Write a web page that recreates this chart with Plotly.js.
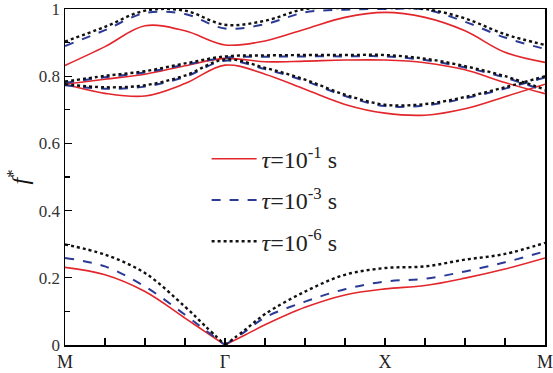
<!DOCTYPE html>
<html>
<head>
<meta charset="utf-8">
<script src="https://cdn.plot.ly/plotly-3.0.1.min.js"></script>
<style>html,body{margin:0;padding:0;background:#fff;}#chart{width:553px;height:373px;}</style>
</head>
<body>
<div id="chart"></div>
<script>
// k-path positions: M=0, Γ=1, X=2, M=3
const tickPos = [0, 1, 2, 3];
const tickLabels = ["M", "Γ", "X", "M"];
const seriesNames = ["<i>τ</i>=10<sup>-1</sup> s", "<i>τ</i>=10<sup>-3</sup> s", "<i>τ</i>=10<sup>-6</sup> s"];

// Band 1, M -> Γ
const b1L_x = [0, 0.25, 0.5, 0.75, 0.875, 1];
const b1L_red   = [0.231, 0.209, 0.159, 0.080, 0.040, 0.0];
const b1L_blue  = [0.259, 0.234, 0.174, 0.090, 0.045, 0.0];
const b1L_black = [0.299, 0.269, 0.214, 0.114, 0.057, 0.0];

// Band 1, Γ -> X -> M
const b1R_x = [1, 1.125, 1.25, 1.5, 1.75, 2, 2.25, 2.5, 2.75, 3];
const b1R_red   = [0, 0.030, 0.060, 0.112, 0.149, 0.167, 0.177, 0.199, 0.226, 0.259];
const b1R_blue  = [0, 0.040, 0.082, 0.129, 0.166, 0.189, 0.197, 0.219, 0.246, 0.279];
const b1R_black = [0, 0.045, 0.092, 0.159, 0.209, 0.229, 0.234, 0.254, 0.271, 0.304];

// Band 2 (lower middle)
const b2_x = [0, 0.25, 0.5, 0.75, 1, 1.25, 1.5, 1.75, 2, 2.25, 2.5, 2.75, 3];
const b2_red   = [0.776, 0.749, 0.741, 0.778, 0.833, 0.806, 0.761, 0.716, 0.690, 0.684, 0.703, 0.739, 0.776];
const b2_blue  = [0.773, 0.763, 0.769, 0.798, 0.846, 0.821, 0.786, 0.741, 0.711, 0.713, 0.734, 0.763, 0.796];
const b2_black = [0.776, 0.767, 0.773, 0.802, 0.850, 0.825, 0.790, 0.745, 0.715, 0.717, 0.738, 0.767, 0.800];

// Band 3 (upper middle)
const b3_x = [0, 0.25, 0.5, 0.75, 1, 1.25, 1.5, 1.75, 2, 2.25, 2.5, 2.75, 3];
const b3_red   = [0.776, 0.791, 0.806, 0.831, 0.853, 0.843, 0.845, 0.848, 0.848, 0.840, 0.819, 0.781, 0.748];
const b3_blue  = [0.780, 0.797, 0.811, 0.834, 0.855, 0.858, 0.859, 0.859, 0.859, 0.848, 0.826, 0.796, 0.756];
const b3_black = [0.784, 0.801, 0.815, 0.838, 0.859, 0.862, 0.863, 0.863, 0.863, 0.852, 0.830, 0.800, 0.760];

// Band 4 (top)
const b4_x = [0, 0.25, 0.5, 0.75, 1, 1.25, 1.5, 1.75, 2, 2.25, 2.5, 2.75, 3];
const b4_red   = [0.832, 0.888, 0.950, 0.935, 0.893, 0.905, 0.940, 0.975, 0.990, 0.975, 0.935, 0.871, 0.841];
const b4_blue  = [0.890, 0.937, 0.988, 0.985, 0.942, 0.955, 0.990, 0.998, 1.000, 0.998, 0.962, 0.915, 0.881];
const b4_black = [0.903, 0.947, 0.995, 0.995, 0.953, 0.965, 1.000, 1.003, 1.003, 1.000, 0.972, 0.925, 0.893];

const styles = [
  {color: "#e3262b", width: 1.6, dash: "solid"},
  {color: "#2b3b95", width: 2.0, dash: "dash"},
  {color: "#111111", width: 2.4, dash: "dot"}
];

const bandSets = [
  [[b1L_x, b1L_red], [b1R_x, b1R_red], [b2_x, b2_red], [b3_x, b3_red], [b4_x, b4_red]],
  [[b1L_x, b1L_blue], [b1R_x, b1R_blue], [b2_x, b2_blue], [b3_x, b3_blue], [b4_x, b4_blue]],
  [[b1L_x, b1L_black], [b1R_x, b1R_black], [b2_x, b2_black], [b3_x, b3_black], [b4_x, b4_black]]
];

const traces = [];
bandSets.forEach((bands, si) => {
  bands.forEach((b, bi) => {
    traces.push({
      x: b[0], y: b[1], type: "scatter", mode: "lines",
      line: {color: styles[si].color, width: styles[si].width, dash: styles[si].dash, shape: "spline", smoothing: 1},
      name: seriesNames[si], legendgroup: "g" + si, showlegend: bi === 0, hoverinfo: "skip"
    });
  });
});

const layout = {
  width: 553, height: 373,
  margin: {l: 65, r: 8, t: 9, b: 28},
  paper_bgcolor: "#fff", plot_bgcolor: "#fff",
  font: {family: "Liberation Serif, Times New Roman, serif", color: "#222"},
  showlegend: true,
  legend: {
    x: 0.295, y: 0.62, xanchor: "left", yanchor: "top",
    bgcolor: "rgba(0,0,0,0)", font: {size: 24, family: "Liberation Serif, serif", color: "#222"},
    traceorder: "grouped", tracegroupgap: 7, itemwidth: 45
  },
  xaxis: {
    range: [0, 3], tickmode: "array", tickvals: tickPos, ticktext: tickLabels,
    ticklabeloverflow: "allow",
    ticks: "inside", ticklen: 7, tickwidth: 1.2, tickcolor: "#000",
    minor: {tickmode: "linear", tick0: 0, dtick: 0.25, ticks: "inside", ticklen: 7, tickwidth: 1.2, tickcolor: "#000"},
    showline: true, linecolor: "#000", linewidth: 1.5, mirror: true,
    showgrid: false, zeroline: false,
    tickfont: {size: 18, family: "Liberation Serif, serif", color: "#222"}
  },
  yaxis: {
    range: [0, 1], tickmode: "linear", tick0: 0, dtick: 0.2,
    ticklabeloverflow: "allow",
    ticks: "inside", ticklen: 7, tickwidth: 1.2, tickcolor: "#000",
    minor: {tickmode: "linear", tick0: 0, dtick: 0.1, ticks: "inside", ticklen: 5, tickwidth: 1.2, tickcolor: "#000"},
    showline: true, linecolor: "#000", linewidth: 1.5, mirror: true,
    showgrid: false, zeroline: false,
    tickfont: {size: 17, family: "Liberation Serif, serif", color: "#333"},
    title: {text: "<i>f</i><sup>*</sup>", font: {size: 24, family: "Liberation Serif, serif", color: "#111"}, standoff: 3}
  }
};

Plotly.newPlot("chart", traces, layout, {displayModeBar: false, staticPlot: true});
</script>
</body>
</html>
